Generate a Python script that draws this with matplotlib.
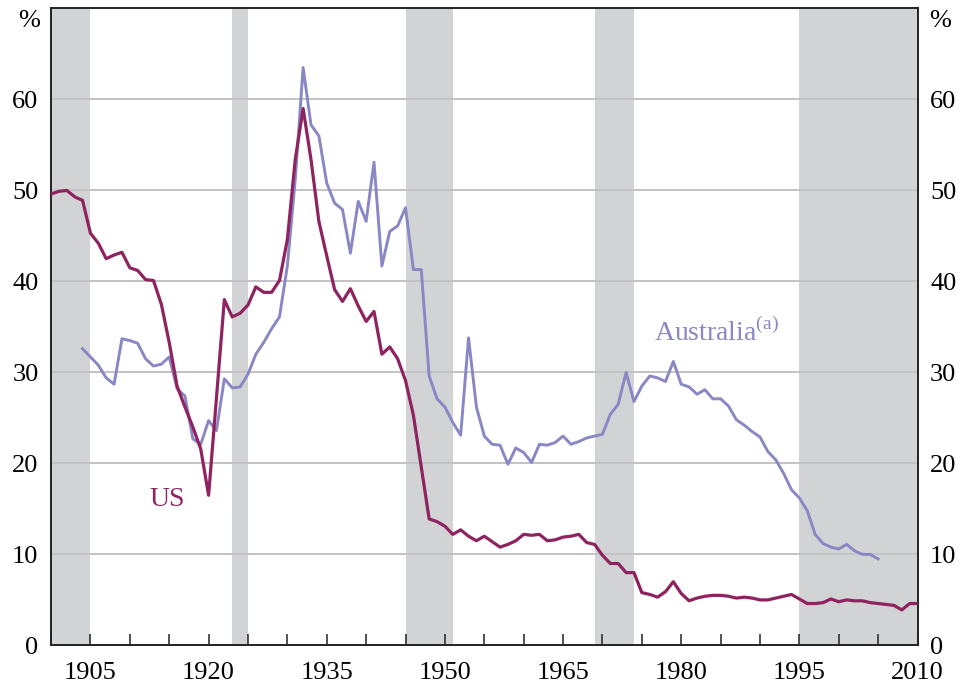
import numpy as np
import matplotlib
matplotlib.use("Agg")
import matplotlib.pyplot as plt
from matplotlib.ticker import MultipleLocator

plt.rcParams["font.family"] = ["Liberation Serif", "DejaVu Serif"]
plt.rcParams["mathtext.fontset"] = "custom"
plt.rcParams["mathtext.rm"] = "Liberation Serif"

# US series, 1900-2010 (%)
us_values = [
    49.6, 49.9, 50.0, 49.3, 48.9, 45.3, 44.2, 42.5, 42.9, 43.2,   # 1900s
    41.5, 41.2, 40.2, 40.1, 37.5, 33.3, 28.5, 26.2, 24.0, 21.6,   # 1910s
    16.5, 27.2, 38.0, 36.1, 36.5, 37.4, 39.4, 38.8, 38.8, 40.1,   # 1920s
    44.6, 53.4, 59.0, 53.4, 46.6, 42.8, 39.1, 37.8, 39.2, 37.3,   # 1930s
    35.6, 36.7, 32.0, 32.8, 31.5, 29.1, 25.3, 19.6, 13.9, 13.6,   # 1940s
    13.1, 12.2, 12.7, 12.0, 11.5, 12.0, 11.4, 10.8, 11.1, 11.5,   # 1950s
    12.2, 12.1, 12.2, 11.5, 11.6, 11.9, 12.0, 12.2, 11.3, 11.1,   # 1960s
    9.9, 9.0, 9.0, 8.0, 8.0, 5.8, 5.6, 5.3, 5.9, 7.0,             # 1970s
    5.7, 4.9, 5.2, 5.4, 5.5, 5.5, 5.4, 5.2, 5.3, 5.2,             # 1980s
    5.0, 5.0, 5.2, 5.4, 5.6, 5.1, 4.6, 4.6, 4.7, 5.1,             # 1990s
    4.8, 5.0, 4.9, 4.9, 4.7, 4.6, 4.5, 4.4, 3.9, 4.6,             # 2000s
    4.6,                                                          # 2010
]
us_years = np.arange(1900, 1900 + len(us_values))

# Australia series, 1904-2005 (%)
aus_values = [
    32.6, 31.7, 30.8, 29.4, 28.7, 33.7,                           # 1904-1909
    33.5, 33.2, 31.5, 30.7, 30.9, 31.7, 28.2, 27.4, 22.7, 22.1,   # 1910s
    24.7, 23.6, 29.3, 28.3, 28.4, 29.8, 32.0, 33.3, 34.8, 36.1,   # 1920s
    41.7, 51.2, 63.5, 57.2, 56.0, 50.8, 48.6, 47.9, 43.1, 48.8,   # 1930s
    46.6, 53.1, 41.7, 45.5, 46.1, 48.1, 41.3, 41.3, 29.6, 27.1,   # 1940s
    26.2, 24.5, 23.1, 33.8, 26.2, 23.0, 22.1, 22.0, 19.9, 21.7,   # 1950s
    21.2, 20.1, 22.1, 22.0, 22.3, 23.0, 22.1, 22.4, 22.8, 23.0,   # 1960s
    23.2, 25.4, 26.5, 30.0, 26.8, 28.5, 29.6, 29.4, 29.0, 31.2,   # 1970s
    28.7, 28.4, 27.6, 28.1, 27.1, 27.1, 26.3, 24.8, 24.2, 23.5,   # 1980s
    22.9, 21.3, 20.4, 18.9, 17.1, 16.2, 14.8, 12.2, 11.2, 10.8,   # 1990s
    10.6, 11.1, 10.4, 10.0, 10.0, 9.5,                            # 2000-2005
]
aus_years = np.arange(1904, 1904 + len(aus_values))

# shaded periods (start, end)
shade_start = [1900, 1923, 1945, 1969, 1995]
shade_end = [1905, 1925, 1951, 1974, 2010]

label_years = [1905, 1920, 1935, 1950, 1965, 1980, 1995, 2010]
y_ticks = [0, 10, 20, 30, 40, 50, 60]

us_color = "#8e2360"
aus_color = "#8a87c5"
grid_color = "#c3c3c6"
shade_color = "#d2d3d5"

fig = plt.figure(figsize=(9.63, 6.91), dpi=100)
ax = fig.add_axes([0.053, 0.066, 0.8998, 0.9218])

for s, e in zip(shade_start, shade_end):
    ax.axvspan(s, e, color=shade_color, lw=0, zorder=0)

for y in y_ticks[1:]:
    ax.axhline(y, color=grid_color, lw=1.4, zorder=1)

ax.plot(us_years, us_values, color=us_color, lw=2.3, zorder=3)
ax.plot(aus_years, aus_values, color=aus_color, lw=2.1, zorder=2)

ax.set_xlim(1900, 2010)
ax.set_ylim(0, 70)

ax.set_xticks(label_years)
ax.xaxis.set_minor_locator(MultipleLocator(5))
ax.set_yticks(y_ticks)

ax.tick_params(axis="x", which="both", direction="in", length=8, width=1.1,
               color="#222222", labelsize=19, pad=12)
ax.tick_params(axis="y", which="both", length=0, labelsize=19, pad=9,
               labelleft=True, labelright=True)

for side in ["left", "right", "top", "bottom"]:
    ax.spines[side].set_color("#222222")
    ax.spines[side].set_linewidth(1.4)

ax.text(-0.013, 68.6, "%", transform=ax.get_yaxis_transform(), ha="right",
        va="center", fontsize=19)
ax.text(1.013, 68.6, "%", transform=ax.get_yaxis_transform(), ha="left",
        va="center", fontsize=19)

ax.text(1914.8, 16.0, "US", color=us_color, fontsize=20, ha="center", va="center")
ax.text(1976.6, 33.4, r"Australia$^{\rm (a)}$", color=aus_color, fontsize=20,
        ha="left", va="baseline")

fig.savefig("out.png", dpi=100)
